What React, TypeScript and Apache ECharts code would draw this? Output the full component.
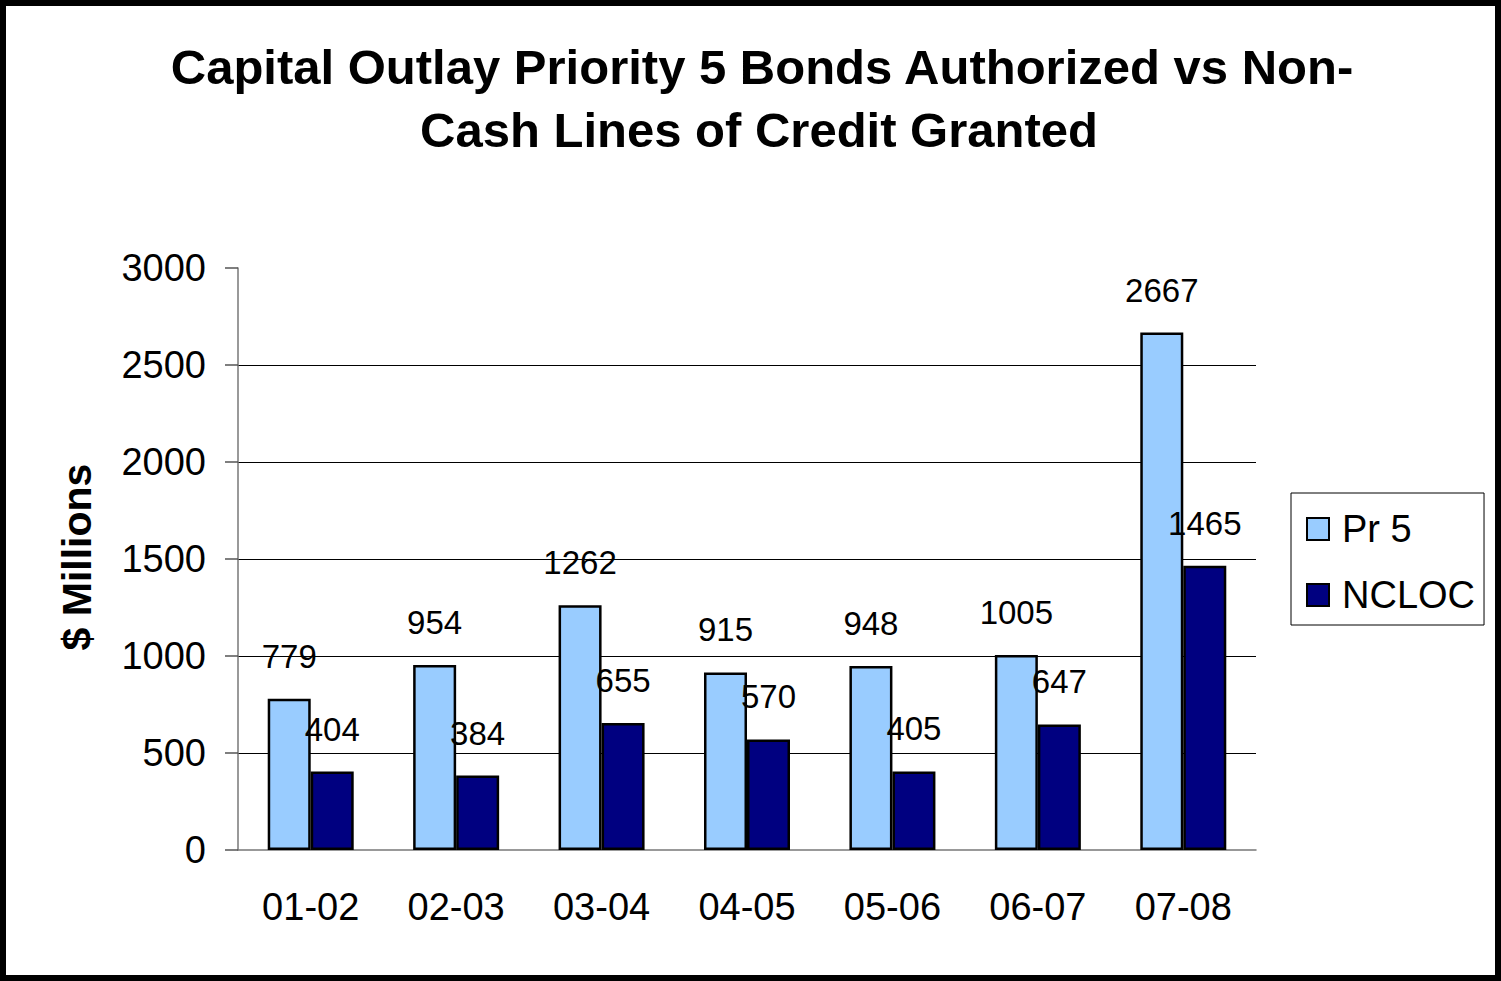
import React, { useEffect, useRef } from "react";
import * as echarts from "echarts";

const categories = ["01-02", "02-03", "03-04", "04-05", "05-06", "06-07", "07-08"];
const pr5Values = [779, 954, 1262, 915, 948, 1005, 2667];
const nclocValues = [404, 384, 655, 570, 405, 647, 1465];
const seriesNames = ["Pr 5", "NCLOC"];
const titleLines = ["Capital Outlay Priority 5 Bonds Authorized vs Non-", "Cash Lines of Credit Granted"];
const yAxisTitle = "$ Millions";

const FONT = '"Liberation Sans", Arial, Helvetica, sans-serif';

export default function App() {
  const ref = useRef<HTMLDivElement>(null);
  useEffect(() => {
    if (!ref.current) return;
    const chart = echarts.init(ref.current, null, { renderer: "svg" });
    const labelStyle = {
      show: true,
      position: "top",
      distance: 26,
      color: "#000",
      fontSize: 33,
      fontFamily: FONT,
    };
    chart.setOption({
      animation: false,
      backgroundColor: "#fff",
      textStyle: { fontFamily: FONT },
      graphic: [
        {
          type: "rect",
          shape: { x: 3, y: 3, width: 1495, height: 975 },
          style: { fill: "none", stroke: "#000", lineWidth: 6 },
          silent: true,
        },
        {
          type: "text",
          x: 762,
          y: 67,
          style: {
            text: titleLines[0],
            font: `bold 49px ${FONT}`,
            fill: "#000",
            textAlign: "center",
            textVerticalAlign: "middle",
          },
        },
        {
          type: "text",
          x: 759,
          y: 130,
          style: {
            text: titleLines[1],
            font: `bold 49px ${FONT}`,
            fill: "#000",
            textAlign: "center",
            textVerticalAlign: "middle",
          },
        },
        {
          type: "text",
          x: 77,
          y: 557,
          rotation: Math.PI / 2,
          style: {
            text: yAxisTitle,
            font: `bold 41px ${FONT}`,
            fill: "#000",
            textAlign: "center",
            textVerticalAlign: "middle",
          },
        },
      ],
      legend: {
        orient: "vertical",
        left: 1291,
        top: 493,
        padding: [16, 9, 10, 15],
        itemGap: 26,
        itemWidth: 22,
        itemHeight: 22,
        icon: "rect",
        borderColor: "#000",
        borderWidth: 1,
        backgroundColor: "#fff",
        textStyle: { fontSize: 38, lineHeight: 40, color: "#000", fontFamily: FONT, padding: [0, 0, 0, 8] },
        itemStyle: { borderColor: "#000", borderWidth: 2 },
        data: seriesNames,
      },
      grid: { left: 238, right: 245, top: 268, bottom: 131, containLabel: false },
      xAxis: {
        type: "category",
        data: categories,
        axisLine: { lineStyle: { color: "#777", width: 1.5 } },
        axisTick: { length: 12, lineStyle: { color: "#555", width: 1.5 } },
        axisLabel: { fontSize: 38, color: "#000", margin: 38, fontFamily: FONT },
      },
      yAxis: {
        type: "value",
        min: 0,
        max: 3000,
        interval: 500,
        axisLine: { show: true, lineStyle: { color: "#777", width: 1.5 } },
        axisTick: { show: true, inside: false, length: 13, lineStyle: { color: "#555", width: 1.5 } },
        axisLabel: {
          fontSize: 38,
          color: "#000",
          margin: 32,
          fontFamily: FONT,
          formatter: (v: number) => String(v),
        },
        splitLine: { show: true, showMaxLine: false, showMinLine: false, lineStyle: { color: "#000", width: 1 } },
      },
      series: [
        {
          name: seriesNames[0],
          type: "bar",
          data: pr5Values,
          barWidth: 43,
          barGap: "0%",
          itemStyle: { color: "#99CCFF", borderColor: "#000", borderWidth: 2.5 },
          label: labelStyle,
        },
        {
          name: seriesNames[1],
          type: "bar",
          data: nclocValues,
          barWidth: 43,
          barGap: "0%",
          itemStyle: { color: "#000080", borderColor: "#000", borderWidth: 2.5 },
          label: labelStyle,
        },
      ],
    });
    return () => chart.dispose();
  }, []);
  return (
    <div
      ref={ref}
      style={{ position: "absolute", left: 0, top: 0, width: 1501, height: 981 }}
    />
  );
}
